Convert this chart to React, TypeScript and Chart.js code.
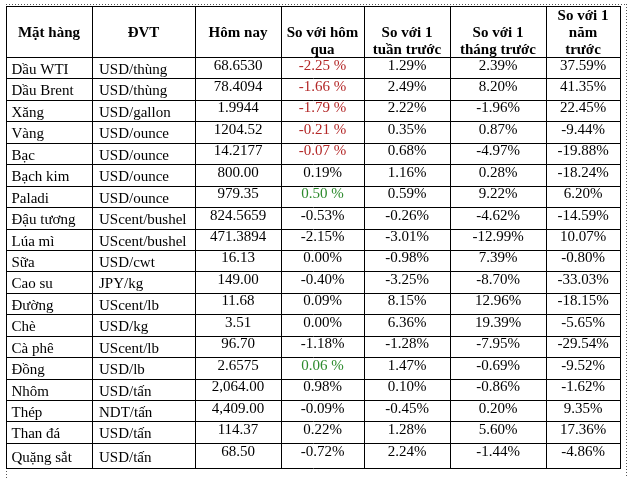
import { useEffect, useRef } from "react";
import { Chart, registerables } from "chart.js";

Chart.register(...registerables);

// ---------- data ----------
const headers = [
  "Mặt hàng",
  "ĐVT",
  "Hôm nay",
  "So với hôm\nqua",
  "So với 1\ntuần trước",
  "So với 1\ntháng trước",
  "So với 1\nnăm\ntrước",
];

const items = [
  "Dầu WTI", "Dầu Brent", "Xăng", "Vàng", "Bạc", "Bạch kim", "Paladi",
  "Đậu tương", "Lúa mì", "Sữa", "Cao su", "Đường", "Chè", "Cà phê",
  "Đồng", "Nhôm", "Thép", "Than đá", "Quặng sắt",
];

const units = [
  "USD/thùng", "USD/thùng", "USD/gallon", "USD/ounce", "USD/ounce", "USD/ounce",
  "USD/ounce", "UScent/bushel", "UScent/bushel", "USD/cwt", "JPY/kg", "UScent/lb",
  "USD/kg", "UScent/lb", "USD/lb", "USD/tấn", "NDT/tấn", "USD/tấn", "USD/tấn",
];

const today = [
  "68.6530", "78.4094", "1.9944", "1204.52", "14.2177", "800.00", "979.35",
  "824.5659", "471.3894", "16.13", "149.00", "11.68", "3.51", "96.70",
  "2.6575", "2,064.00", "4,409.00", "114.37", "68.50",
];

const vsYesterday = [
  "-2.25 %", "-1.66 %", "-1.79 %", "-0.21 %", "-0.07 %", "0.19%", "0.50 %",
  "-0.53%", "-2.15%", "0.00%", "-0.40%", "0.09%", "0.00%", "-1.18%",
  "0.06 %", "0.98%", "-0.09%", "0.22%", "-0.72%",
];

const vsWeek = [
  "1.29%", "2.49%", "2.22%", "0.35%", "0.68%", "1.16%", "0.59%",
  "-0.26%", "-3.01%", "-0.98%", "-3.25%", "8.15%", "6.36%", "-1.28%",
  "1.47%", "0.10%", "-0.45%", "1.28%", "2.24%",
];

const vsMonth = [
  "2.39%", "8.20%", "-1.96%", "0.87%", "-4.97%", "0.28%", "9.22%",
  "-4.62%", "-12.99%", "7.39%", "-8.70%", "12.96%", "19.39%", "-7.95%",
  "-0.69%", "-0.86%", "0.20%", "5.60%", "-1.44%",
];

const vsYear = [
  "37.59%", "41.35%", "22.45%", "-9.44%", "-19.88%", "-18.24%", "6.20%",
  "-14.59%", "10.07%", "-0.80%", "-33.03%", "-18.15%", "-5.65%", "-29.54%",
  "-9.52%", "-1.62%", "9.35%", "17.36%", "-4.86%",
];

const columns = [items, units, today, vsYesterday, vsWeek, vsMonth, vsYear];

// ---------- layout (not data) ----------
const W = 628;
const H = 478;
const colEdges = [6, 92, 195, 281, 364, 450, 546, 620];
const headerTop = 6;
const headerBottom = 57;
const rowH = 21.44;
const tableBottom = 468;
const FONT = '"Liberation Serif", "Times New Roman", serif';
const RED = "#b32727";
const GREEN = "#2c8a2c";

function rowEdges(n: number): number[] {
  const e: number[] = [headerBottom];
  for (let i = 1; i < n; i++) e.push(headerBottom + i * rowH);
  e.push(tableBottom);
  return e;
}

function cellColor(col: number, s: string): string {
  if (col === 3 && s.includes(" %")) return s.trim().startsWith("-") ? RED : GREEN;
  return "#000";
}

const tablePlugin = {
  id: "tablePlugin",
  afterDraw(chart: any) {
    const ctx: CanvasRenderingContext2D = chart.ctx;
    const xs = chart.scales.x;
    const ys = chart.scales.y;
    const px = (v: number) => xs.getPixelForValue(v);
    const py = (v: number) => ys.getPixelForValue(v);
    const rEdges = rowEdges(items.length);

    ctx.save();
    ctx.fillStyle = "#fff";
    ctx.fillRect(0, 0, W, H);

    // dotted frame (page border)
    ctx.strokeStyle = "#555";
    ctx.lineWidth = 1;
    ctx.setLineDash([1, 2]);
    ctx.beginPath();
    ctx.moveTo(px(colEdges[0]), Math.round(py(4)) + 0.5);
    ctx.lineTo(px(627), Math.round(py(4)) + 0.5);
    ctx.moveTo(Math.round(px(626)) + 0.5, py(4));
    ctx.lineTo(Math.round(px(626)) + 0.5, py(H));
    ctx.moveTo(Math.round(px(colEdges[0])) + 0.5, py(tableBottom));
    ctx.lineTo(Math.round(px(colEdges[0])) + 0.5, py(H));
    ctx.stroke();
    ctx.setLineDash([]);

    // grid lines
    ctx.strokeStyle = "#000";
    ctx.beginPath();
    for (const cx of colEdges) {
      const x = Math.round(px(cx)) + 0.5;
      ctx.moveTo(x, py(headerTop));
      ctx.lineTo(x, py(tableBottom) + 0.5);
    }
    const hLines = [headerTop, ...rEdges];
    for (const ry of hLines) {
      const y = Math.round(py(ry)) + 0.5;
      ctx.moveTo(px(colEdges[0]), y);
      ctx.lineTo(px(colEdges[colEdges.length - 1]) + 1, y);
    }
    ctx.stroke();

    // header text
    ctx.textAlign = "center";
    ctx.textBaseline = "alphabetic";
    ctx.font = `bold 15px ${FONT}`;
    ctx.fillStyle = "#000";
    headers.forEach((h, c) => {
      const lines = h.split("\n");
      const cx = px((colEdges[c] + colEdges[c + 1]) / 2);
      if (lines.length === 1) {
        ctx.fillText(lines[0], cx, py(headerTop + 31));
      } else {
        const lastBase = headerTop + 47.5;
        lines.forEach((ln, i) => {
          const b = lastBase - (lines.length - 1 - i) * 17;
          ctx.fillText(ln, cx, py(b));
        });
      }
    });

    // body text
    ctx.font = `15px ${FONT}`;
    columns.forEach((col, c) => {
      col.forEach((s, r) => {
        const top = rEdges[r];
        const last = r === col.length - 1;
        ctx.fillStyle = cellColor(c, s);
        if (c < 2) {
          ctx.textAlign = "left";
          ctx.fillText(s, px(colEdges[c] + (c === 0 ? 5.5 : 7)), py(top + (last ? 19 : 17)));
        } else {
          ctx.textAlign = "center";
          ctx.fillText(s, px((colEdges[c] + colEdges[c + 1]) / 2), py(top + (last ? 13.5 : 12.5)));
        }
      });
    });
    ctx.restore();
  },
};

export default function App() {
  const ref = useRef<HTMLCanvasElement | null>(null);
  useEffect(() => {
    if (!ref.current) return;
    const chart = new Chart(ref.current, {
      type: "scatter",
      data: { datasets: [{ data: [], showLine: false, pointRadius: 0 }] },
      options: {
        responsive: false,
        animation: false,
        devicePixelRatio: 1,
        layout: { padding: 0 },
        plugins: { legend: { display: false }, tooltip: { enabled: false } },
        scales: {
          x: { type: "linear", min: 0, max: W, display: false },
          y: { type: "linear", min: 0, max: H, reverse: true, display: false },
        },
      },
      plugins: [tablePlugin],
    });
    return () => chart.destroy();
  }, []);
  return (
    <div style={{ position: "fixed", left: 0, top: 0, width: W, height: H, background: "#fff" }}>
      <canvas ref={ref} width={W} height={H} style={{ display: "block" }} />
    </div>
  );
}
